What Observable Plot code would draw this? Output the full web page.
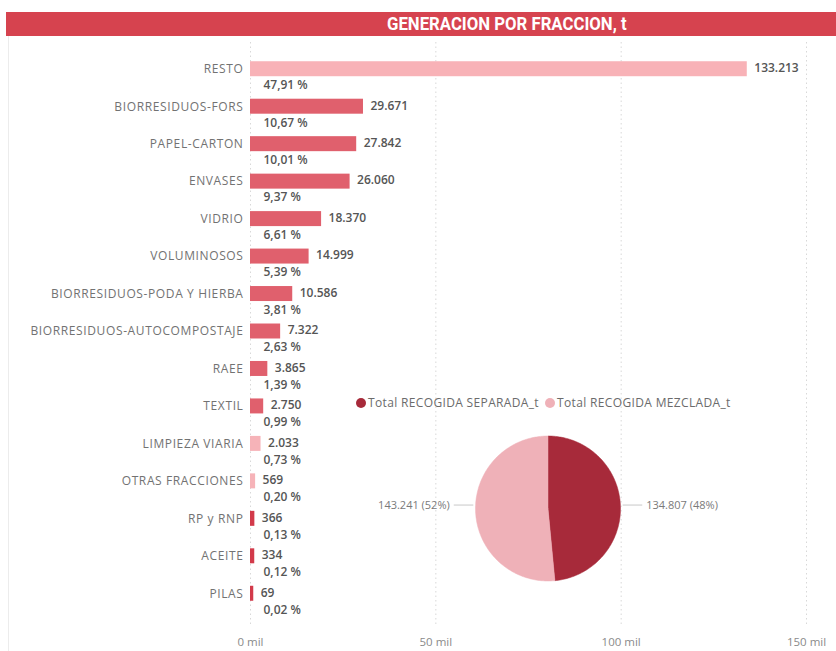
<!DOCTYPE html>
<html>
<head>
<meta charset="utf-8">
<script src="https://cdn.jsdelivr.net/npm/d3@7"></script>
<script src="https://cdn.jsdelivr.net/npm/@observablehq/plot@0.6"></script>
<style>
  html, body { margin: 0; padding: 0; background: #fff; }
  body { width: 836px; height: 651px; position: relative; overflow: hidden; font-family: "Open Sans", "Noto Sans", sans-serif; }
  #title { position: absolute; left: 6px; top: 12px; width: 830px; height: 24px; background: #d6434f; color: #fff;
           font-family: "Roboto", "Liberation Sans", sans-serif; font-weight: bold; font-size: 18px;
           line-height: 24px; box-sizing: border-box; padding-left: 381px; white-space: nowrap; }
  #title span { display: inline-block; transform: scaleX(0.93); transform-origin: left center; }
  #border { position: absolute; left: 8px; top: 36px; width: 1px; height: 615px; background: #ececec; }
  #bars { position: absolute; left: 0; top: 40px; }
  #pie { position: absolute; left: 340px; top: 415px; }
  #legend { position: absolute; left: 356px; top: 394px; font-size: 12px; letter-spacing: 0.35px; color: #6b6b6b; white-space: nowrap; display: flex; align-items: center; }
  #legend span.dot { display: inline-block; width: 10px; height: 10px; border-radius: 50%; margin-right: 2px; }
  #legend span.item { display: inline-flex; align-items: center; margin-right: 6px; }
</style>
</head>
<body>
<div id="title"><span>GENERACION POR FRACCION, t</span></div>
<div id="border"></div>
<div id="bars"></div>
<div id="legend"></div>
<div id="pie"></div>
<script>
// ---- Data ----
const categories = [
  "RESTO", "BIORRESIDUOS-FORS", "PAPEL-CARTON", "ENVASES", "VIDRIO", "VOLUMINOSOS",
  "BIORRESIDUOS-PODA Y HIERBA", "BIORRESIDUOS-AUTOCOMPOSTAJE", "RAEE", "TEXTIL",
  "LIMPIEZA VIARIA", "OTRAS FRACCIONES", "RP y RNP", "ACEITE", "PILAS"
];
const values = [133213, 29671, 27842, 26060, 18370, 14999, 10586, 7322, 3865, 2750, 2033, 569, 366, 334, 69];
const percentLabels = ["47,91 %", "10,67 %", "10,01 %", "9,37 %", "6,61 %", "5,39 %", "3,81 %", "2,63 %",
  "1,39 %", "0,99 %", "0,73 %", "0,20 %", "0,13 %", "0,12 %", "0,02 %"];
const barColors = ["#f8b2b7", "#e0606d", "#e0606d", "#e0606d", "#e0606d", "#e0606d", "#e0606d", "#e0606d",
  "#e0606d", "#e0606d", "#f6b3b8", "#f6b3b8", "#d23a4a", "#d23a4a", "#d23a4a"];
const xTicks = [0, 50000, 100000, 150000];

const pieNames = ["Total RECOGIDA SEPARADA_t", "Total RECOGIDA MEZCLADA_t"];
const pieValues = [134807, 143241];
const pieColors = ["#a72a3a", "#efb1b8"];

// ---- Formatting ----
const loc = d3.formatLocale({decimal: ",", thousands: ".", grouping: [3], currency: ["", ""]});
const fmt = loc.format(",d");

const rows = categories.map((c, i) => ({cat: c, value: values[i], pct: percentLabels[i], color: barColors[i]}));

// ---- Bar chart ----
const bars = Plot.plot({
  width: 836, height: 611,
  marginLeft: 250, marginRight: 30, marginTop: 10, marginBottom: 39,
  style: {fontFamily: "'Open Sans', 'Noto Sans', sans-serif", color: "#8a8a8a", background: "transparent"},
  x: {domain: [0, 150000]},
  y: {domain: categories, paddingInner: 0.6, paddingOuter: 0.3, round: false, axis: null},
  color: {type: "identity"},
  marks: [
    Plot.ruleX(xTicks, {stroke: "#d8d8d8", strokeDasharray: "1.5,3", insetTop: -8, insetBottom: -14}),
    Plot.axisX({ticks: xTicks, tickFormat: d => `${d / 1000} mil`, tickSize: 0, tickPadding: 25, fontSize: 11.5, label: null}),
    Plot.barX(rows, {x: "value", y: "cat", fill: "color", insetRight: -3}),
    Plot.text(rows, {x: 0, y: "cat", text: "cat", textAnchor: "end", dx: -7, fill: "#727272", fontSize: 12}),
    Plot.text(rows, {x: "value", y: "cat", text: d => fmt(d.value), textAnchor: "start", dx: 10, dy: -1, fill: "#555", fontSize: 12, fontWeight: 600}),
    Plot.text(rows, {x: 0, y: "cat", text: "pct", textAnchor: "start", dx: 13, dy: 16, fill: "#555", fontSize: 12, fontWeight: 600})
  ]
});
// widen the tracking of the category labels (first text mark)
const textGroups = bars.querySelectorAll('g[aria-label="text"]');
if (textGroups.length) textGroups[0].setAttribute("letter-spacing", "0.62");
document.getElementById("bars").appendChild(bars);

// ---- Legend ----
const legend = document.getElementById("legend");
pieNames.forEach((n, i) => {
  const it = document.createElement("span");
  it.className = "item";
  it.innerHTML = `<span class="dot" style="background:${pieColors[i]}"></span>${n}`;
  legend.appendChild(it);
});

// ---- Pie chart ----
const W = 460, H = 190, R = 72.5, cx = 207.5, cy = 93;
const total = d3.sum(pieValues);
let acc = 0;
const slices = pieValues.map((v, i) => {
  const a0 = acc / total * 2 * Math.PI;
  acc += v;
  const a1 = acc / total * 2 * Math.PI;
  const pts = [{x: 0, y: 0}];
  const n = Math.max(2, Math.ceil((a1 - a0) / (Math.PI / 180)));
  for (let k = 0; k <= n; k++) {
    const a = a0 + (a1 - a0) * k / n;
    pts.push({x: Math.sin(a), y: Math.cos(a)});
  }
  pts.push({x: 0, y: 0});
  const mid = (a0 + a1) / 2;
  const side = Math.sin(mid) >= 0 ? 1 : -1;
  const pctTxt = Math.round(v / total * 100) + "%";
  return {pts, mid, side, label: `${fmt(v)} (${pctTxt})`, color: pieColors[i]};
});
// labels sit on horizontal leader lines at the height of the slice mid-angle
const leaders = slices.map(s => ({x1: s.side * 1.03, x2: s.side * 1.3, y: Math.abs(Math.cos(s.mid)), side: s.side, label: s.label}));
const rightLabels = leaders.filter(d => d.side > 0);
const leftLabels = leaders.filter(d => d.side < 0);

const pie = Plot.plot({
  width: W, height: H, margin: 0,
  style: {fontFamily: "'Open Sans', 'Noto Sans', sans-serif", background: "transparent"},
  x: {domain: [-cx / R, (W - cx) / R], axis: null},
  y: {domain: [(cy - H) / R, cy / R], axis: null},
  marks: [
    ...slices.map(s => Plot.line(s.pts, {x: "x", y: "y", fill: s.color, stroke: s.color, strokeWidth: 0.5})),
    Plot.link(leaders, {x1: "x1", x2: "x2", y1: "y", y2: "y", stroke: "#c8c8c8", strokeWidth: 1}),
    Plot.text(rightLabels, {x: "x2", y: "y", text: "label", textAnchor: "start", dx: 4, fill: "#7a7a7a", fontSize: 11}),
    Plot.text(leftLabels, {x: "x2", y: "y", text: "label", textAnchor: "end", dx: -4, fill: "#7a7a7a", fontSize: 11})
  ]
});
document.getElementById("pie").appendChild(pie);
</script>
</body>
</html>
